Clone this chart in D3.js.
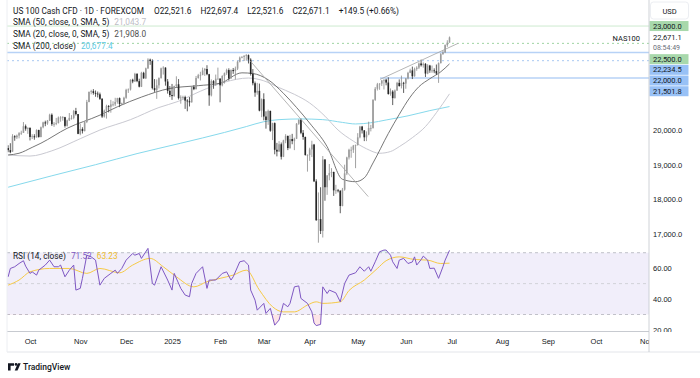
<!DOCTYPE html>
<html>
<head>
<meta charset="utf-8">
<script src="https://cdn.jsdelivr.net/npm/d3@7"></script>
<style>
  body { margin: 0; background: #fff; }
  svg { display: block; font-family: Roboto, "Noto Sans", sans-serif; }
</style>
</head>
<body>
<svg id="chart" width="700" height="378"></svg>
<script>
// ---------- data ----------
const startDate = "2024-09-17";
const closedDays = ["2024-12-25", "2025-01-01"];

// [open, high, low, close], one row per trading day
const candles = [
  // Sep 2024
  [19480,19560,19360,19420],[19420,19620,19330,19360],[19380,19880,19370,19820],[19820,19850,19690,19790],[19790,19870,19740,19840],
  [19840,19940,19760,19910],[19910,19980,19860,19920],[19920,20230,19920,20110],[20110,20160,19980,20040],[20040,20080,19890,20060],
  // Oct
  [20060,20080,19700,19800],[19800,19880,19740,19820],[19820,19880,19720,19790],[19790,20020,19780,20000],[20000,20010,19780,19800],
  [19800,20100,19790,20080],[20080,20240,20050,20220],[20220,20270,20110,20190],[20190,20290,20150,20270],[20270,20470,20260,20440],
  [20440,20480,20120,20170],[20170,20230,20090,20180],[20180,20350,20140,20200],[20200,20390,20190,20360],[20360,20400,20240,20360],
  [20360,20400,20270,20370],[20370,20380,20070,20120],[20120,20300,20100,20280],[20280,20490,20260,20350],[20350,20430,20300,20350],
  [20350,20580,20310,20550],[20550,20640,20420,20460],[20460,20460,19880,19890],
  // Nov
  [19890,20180,19850,20030],[20030,20080,19900,19970],[19970,20250,19960,20230],[20230,20870,20200,20810],[20810,21110,20800,21100],
  [21100,21160,21030,21120],[21120,21180,21020,21070],[21070,21140,20960,21050],[21050,21110,20940,21030],[21030,21080,20870,20900],
  [20900,20920,20350,20390],[20390,20590,20360,20560],[20560,20730,20330,20690],[20690,20720,20510,20670],[20670,20870,20500,20740],
  [20740,20830,20680,20740],[20740,20930,20690,20810],[20810,20930,20760,20920],[20920,20940,20660,20750],[20750,20790,20720,20770],
  [20770,20960,20740,20930],
  // Dec
  [20930,21190,20900,21160],[21160,21200,21070,21170],[21170,21460,21140,21450],[21450,21480,21350,21400],[21400,21650,21390,21620],
  [21620,21640,21380,21410],[21410,21480,21230,21250],[21250,21680,21240,21650],[21650,21680,21480,21490],[21490,21800,21470,21780],
  [21780,22070,21760,22030],[22030,22060,21880,21990],[21990,22040,21170,21210],[21210,21470,21100,21150],[21150,21460,20900,21290],
  [21290,21520,21200,21500],[21500,21800,21480,21780],[21780,21840,21600,21800],[21800,21810,21280,21400],[21400,21470,21050,21130],
  [21130,21270,20950,21010],
  // Jan 2025
  [21010,21330,20870,20980],[20980,21280,20960,21270],[21270,21550,21240,21320],[21320,21470,20880,20920],[20920,21000,20760,20940],
  [20940,20990,20890,20950],[20950,20990,20610,20850],[20850,20890,20540,20830],[20830,20950,20680,20800],[20800,21270,20790,21240],
  [21240,21290,21150,21180],[21180,21560,21170,21500],[21500,21620,21480,21580],[21580,21680,21430,21590],[21590,21800,21580,21720],
  [21720,21790,21560,21760],[21760,21870,21580,21610],[21610,21620,20700,21000],[21000,21460,20970,21410],[21410,21440,21190,21340],
  [21340,21600,21280,21480],[21480,21800,21460,21480],
  // Feb
  [21480,21500,20800,21290],[21290,21580,21260,21560],[21560,21660,21340,21640],[21640,21770,21590,21730],[21730,21780,21430,21490],
  [21490,21750,21480,21730],[21730,21790,21620,21700],[21700,21830,21460,21770],[21770,22000,21730,21970],[21970,22120,21950,22090],
  [22090,22130,22070,22110],[22110,22160,21990,22140],[22140,22190,22000,22160],[22160,22180,21920,22030],[22030,22070,21570,21620],
  [21620,21760,21290,21350],[21350,21400,20960,21080],[21080,21360,21020,21130],[21130,21340,20540,20560],[20560,20910,20370,20890],
  // Mar
  [20890,21060,20280,20390],[20390,20540,20040,20290],[20290,20590,20150,20550],[20550,20560,19950,19980],[19980,20210,19710,20200],
  [20200,20220,19300,19430],[19430,19630,19240,19380],[19380,19680,19370,19590],[19590,19640,19150,19230],[19230,19720,19220,19700],
  [19700,19880,19620,19830],[19830,19840,19420,19480],[19480,19860,19460,19740],[19740,19890,19590,19680],[19680,19780,19420,19750],
  [19750,20200,19740,20180],[20180,20310,20150,20290],[20290,20330,19880,19920],[19920,20000,19720,19800],[19800,19810,19260,19280],
  [19280,19300,18800,19280],
  // Apr
  [19280,19490,19110,19440],[19440,19690,19220,19580],[19580,19600,18500,18520],[18520,18580,17380,17400],[17400,18200,16750,17430],
  [17430,18350,17000,17090],[17090,19250,16900,19150],[19150,19160,17960,18350],[18350,18700,18130,18690],[18690,19020,18550,18760],
  [18760,18900,18640,18790],[18790,18800,18100,18260],[18260,18420,18160,18260],[18260,18300,18200,18250],[18250,18260,17600,17810],
  [17810,18330,17800,18280],[18280,19000,18250,18750],[18750,19230,18700,19210],[19210,19460,19150,19430],[19430,19520,19200,19430],
  [19430,19570,19340,19550],[19550,19580,18900,19570],
  // May
  [19570,19910,19550,19790],[19790,20120,19760,20100],[20100,20120,19900,19990],[19990,20000,19680,19790],[19790,19960,19680,19870],
  [19870,20240,19850,20060],[20060,20150,19960,20060],[20060,20890,20040,20870],[20870,21240,20840,21190],[21190,21360,21140,21320],
  [21320,21350,21160,21340],[21340,21440,21270,21430],[21430,21460,21170,21450],[21450,21480,21290,21370],[21370,21520,21020,21040],
  [21040,21200,20990,21110],[21110,21150,20720,20920],[20920,21170,20910,21140],[21140,21390,21130,21360],[21360,21460,21250,21270],
  [21270,21570,21200,21360],[21360,21390,21070,21340],
  // Jun
  [21340,21500,21190,21490],[21490,21680,21460,21650],[21650,21770,21640,21720],[21720,21830,21470,21550],[21550,21800,21540,21760],
  [21760,21840,21710,21800],[21800,21950,21760,21920],[21920,22030,21830,21870],[21870,21950,21800,21910],[21910,21930,21530,21630],
  [21630,21900,21610,21860],[21860,21880,21650,21720],[21720,21860,21650,21720],[21720,21780,21640,21700],[21700,21890,21590,21630],
  [21630,21950,21360,21930],[21930,22220,21920,22190],[22190,22300,22170,22240],[22240,22470,22220,22450],[22450,22590,22400,22521.6],
  [22521.6,22697.4,22521.6,22671.1]
];

// moving averages, [bar index, value]
const sma20 = [[0,19280],[5,19330],[11,19500],[15,19620],[27,20050],[42,20430],[50,20670],[61,20950],[74,21200],[87,21280],
  [97,21350],[107,21650],[112,21630],[119,21450],[126,21060],[132,20650],[138,20200],[146,19520],[153,18580],[159,18510],
  [163,18620],[167,19050],[174,19900],[179,20450],[184,20950],[188,21250],[193,21480],[198,21680],[202,21908.0]];
const sma50 = [[0,19280],[10,19250],[20,19400],[33,19750],[42,20000],[56,20300],[69,20650],[78,20830],[88,21120],[99,21380],
  [110,21500],[117,21420],[123,21250],[131,21030],[138,20780],[145,20400],[151,20000],[158,19680],[164,19460],[170,19330],
  [175,19380],[179,19520],[185,19780],[191,20100],[196,20500],[202,21043.7]];
const sma200 = [[0,18350],[20,18680],[40,19000],[59,19320],[79,19620],[99,19930],[109,20100],[117,20240],[124,20300],[134,20320],
  [144,20300],[153,20220],[159,20175],[166,20210],[173,20290],[183,20410],[193,20560],[202,20677.4]];

// RSI(14) and its moving average, [bar index, value]
const rsi = [[0,54.4],[1,59.8],[3,60.9],[5,63],[7,64.8],[8,61.3],[10,56.6],[11,57.6],[13,55.5],[14,58.7],[17,62],[19,65.2],
  [21,60.9],[23,60.9],[24,62],[26,54.4],[28,58.7],[30,62],[31,45.8],[33,46.9],[34,53.4],[36,68.4],[38,67.3],[40,65.2],[42,49],
  [44,53.4],[47,56.6],[49,58.7],[50,56.6],[52,59.8],[54,65.2],[57,69.5],[58,68.4],[60,69.5],[61,66.3],[64,72.8],[66,50.1],
  [67,49],[70,60.9],[73,52.3],[75,45.8],[76,56.6],[79,46.9],[81,42.6],[83,41.5],[84,50.1],[86,56.6],[89,60.9],[91,46.9],
  [92,52.3],[95,52.3],[98,56.6],[100,57.6],[102,52.3],[103,54.4],[106,64.1],[108,64.8],[110,62],[111,45.8],[113,39.3],
  [114,32.8],[117,37.2],[118,30.7],[120,34],[122,23.1],[124,26.4],[126,37.2],[128,35],[129,37.2],[131,47.9],[133,48.5],
  [134,40.4],[137,37.2],[139,31.7],[140,24.5],[141,22.8],[143,23.6],[144,47.9],[146,43.6],[147,45.8],[150,44],[152,38.2],[154,50.1],
  [156,55.5],[159,57],[161,60.9],[163,58],[165,60.9],[166,58],[168,64.1],[170,70.6],[172,71.7],[173,71.7],[175,68.4],
  [176,64.1],[178,59.8],[179,65.2],[181,66.3],[183,63],[185,64],[186,67.3],[187,62],[189,65.5],[190,67.8],[192,65.2],
  [193,59.8],[195,60],[197,53.4],[199,60.9],[200,65.2],[202,71.52]];
const rsiMa = [[0,49],[5,52.3],[10,57.6],[19,59.8],[28,59.8],[36,56.6],[42,59.8],[51,57],[57,62],[65,66.3],[71,60.9],[77,54.4],
  [85,47.9],[91,51.2],[97,53.4],[103,55.5],[109,58.7],[115,45.8],[121,35],[126,31.7],[131,31.7],[137,36.1],[141,38.2],
  [144,37.2],[152,38.2],[156,45.5],[163,52.3],[169,59.8],[173,64.8],[179,67.3],[186,65.6],[192,65.2],[198,63],[202,63.23]];

// drawn levels and trend lines
const greenLevels = [23000, 22500];
const blueLevels = [22234.5, 22000, 21501.8];
const trendDown = [[110.7, 22000], [164.8, 18080]];
const trendUp = [[170.2, 21460], [205.9, 22500]];

const priceTicks = [17000, 18000, 19000, 20000];
const rsiTicks = [60, 40, 20];
const rsiBands = [70, 50, 30];
const monthNames = ["Jan","Feb","Mar","Apr","May","Jun","Jul","Aug","Sep","Oct","Nov","Dec"];
const symbolName = "NAS100";
const lastTime = "08:54:49";

// ---------- layout ----------
const svg = d3.select("#chart");
const left = 7, right = 649;
const priceBottom = 248, rsiBottom = 331.5, axisBottom = 352;
const ink = "#131722";
const legendSize = 8.3;
const fmt1 = d3.format(",.1f");

const x = d3.scaleLinear().domain([0, 202]).range([8.15, 449.5]);
const y = d3.scaleLinear().domain([16000, 23500]).range([268.7, 8.7]);
const yR = d3.scaleLinear().domain([30, 70]).range([314.5, 252.7]);

// trading calendar (weekdays minus closures), extended into the future for the axis
const dates = [];
for (let d = new Date(startDate + "T00:00:00Z"); dates.length < candles.length + 100; d.setUTCDate(d.getUTCDate() + 1)) {
  const iso = d.toISOString().slice(0, 10);
  if (d.getUTCDay() === 0 || d.getUTCDay() === 6 || closedDays.includes(iso)) continue;
  dates.push(new Date(d));
}

const defs = svg.append("defs");
const clip = (id, x0, y0, w, h) => defs.append("clipPath").attr("id", id).append("rect")
  .attr("x", x0).attr("y", y0).attr("width", w).attr("height", h);
clip("clipPrice", left, 0, right - left, priceBottom);
clip("clipRsi", left, priceBottom, right - left, rsiBottom - priceBottom);
clip("clipOver", left, 0, right - left, yR(70));
clip("clipUnder", left, yR(30), right - left, 40);
clip("clipTime", left, 0, right - left, 25);

// ---------- price pane ----------
const gp = svg.append("g").attr("clip-path", "url(#clipPrice)");

gp.selectAll(".lvl-g").data(greenLevels).join("line")
  .attr("x1", left).attr("x2", right)
  .attr("y1", d => y(d)).attr("y2", d => y(d))
  .attr("stroke", (d, i) => i === 0 ? "#cdeacf" : "#9fd4a3")
  .attr("stroke-width", 1)
  .attr("stroke-dasharray", (d, i) => i === 0 ? null : "2,3");

gp.selectAll(".lvl-b").data(blueLevels).join("line")
  .attr("x1", (d, i) => i === 2 ? x(trendUp[0][0]) : left).attr("x2", right)
  .attr("y1", d => y(d)).attr("y2", d => y(d))
  .attr("stroke", (d, i) => i === 1 ? "#a8c8f2" : "#b7d2f6")
  .attr("stroke-width", (d, i) => i === 1 ? 1 : 1.4)
  .attr("stroke-dasharray", (d, i) => i === 1 ? "2,3" : null);

const maLine = d3.line().x(d => x(d[0])).y(d => y(d[1])).curve(d3.curveMonotoneX);
gp.append("path").datum(sma200).attr("d", maLine).attr("fill", "none").attr("stroke", "#86d9ec").attr("stroke-width", 1);
gp.append("path").datum(sma50).attr("d", maLine).attr("fill", "none").attr("stroke", "#c9c9d1").attr("stroke-width", 1);
gp.append("path").datum(sma20).attr("d", maLine).attr("fill", "none").attr("stroke", "#5e5e5e").attr("stroke-width", 0.85);

const bw = 1.6;
const cg = gp.append("g");
cg.selectAll("line").data(candles).join("line")
  .attr("x1", (d, i) => x(i)).attr("x2", (d, i) => x(i))
  .attr("y1", d => y(d[1])).attr("y2", d => y(d[2]))
  .attr("stroke", d => d[3] >= d[0] ? "#8a8a8a" : "#333")
  .attr("stroke-width", 0.8);
cg.selectAll("rect").data(candles).join("rect")
  .attr("x", (d, i) => x(i) - bw / 2).attr("width", bw)
  .attr("y", d => y(Math.max(d[0], d[3])))
  .attr("height", d => Math.max(0.8, y(Math.min(d[0], d[3])) - y(Math.max(d[0], d[3]))))
  .attr("fill", d => d[3] >= d[0] ? "#9b9b9b" : "#262626");

const trend = d3.line().x(d => x(d[0])).y(d => y(d[1]));
[trendDown, trendUp].forEach(t => {
  gp.append("path").datum(t).attr("d", trend).attr("fill", "none").attr("stroke", "#a3a3a3").attr("stroke-width", 0.8);
});

gp.append("text").attr("x", right - 9).attr("y", y(candles[candles.length - 1][3]) + 1)
  .attr("text-anchor", "end").attr("dominant-baseline", "central")
  .attr("font-size", 7.5).attr("fill", ink).text(symbolName);

// ---------- RSI pane ----------
const gr = svg.append("g").attr("clip-path", "url(#clipRsi)");
gr.append("rect").attr("x", left).attr("width", right - left)
  .attr("y", yR(70)).attr("height", yR(30) - yR(70)).attr("fill", "#f1eefa");
gr.selectAll(".band").data(rsiBands).join("line")
  .attr("x1", left).attr("x2", right).attr("y1", d => yR(d)).attr("y2", d => yR(d))
  .attr("stroke", (d, i) => i === 1 ? "#c4c5cc" : "#a9abb3").attr("stroke-width", 0.7)
  .attr("stroke-dasharray", "3,3");

const rx = d => x(d[0]);
gr.append("path").datum(rsi).attr("clip-path", "url(#clipUnder)")
  .attr("d", d3.area().x(rx).y0(yR(30)).y1(d => yR(d[1])))
  .attr("fill", "rgba(242,54,69,0.13)");
gr.append("path").datum(rsi).attr("clip-path", "url(#clipOver)")
  .attr("d", d3.area().x(rx).y0(yR(70)).y1(d => yR(d[1])))
  .attr("fill", "rgba(8,153,129,0.12)");

gr.append("path").datum(rsiMa).attr("d", d3.line().x(rx).y(d => yR(d[1])).curve(d3.curveMonotoneX))
  .attr("fill", "none").attr("stroke", "#f5c945").attr("stroke-width", 1);
gr.append("path").datum(rsi).attr("d", d3.line().x(rx).y(d => yR(d[1])))
  .attr("fill", "none").attr("stroke", "#7e57c2").attr("stroke-width", 1);

// ---------- legends ----------
const last = candles[candles.length - 1];
const prevClose = candles[candles.length - 2][3];
const chg = last[3] - prevClose;
const sign = v => (v >= 0 ? "+" : "");

const head = svg.append("text").attr("x", 13).attr("y", 10.5).attr("dominant-baseline", "central")
  .attr("font-size", legendSize).attr("fill", ink);
head.append("tspan").text("US 100 Cash CFD · 1D · FOREXCOM");
["O", "H", "L", "C"].forEach((k, j) => head.append("tspan").attr("dx", j ? 9 : 10).text(k + fmt1(last[j])));
head.append("tspan").attr("dx", 9)
  .text(`${sign(chg)}${fmt1(chg)} (${sign(chg)}${(chg / prevClose * 100).toFixed(2)}%)`);

const legendRows = [
  { label: "SMA (50, close, 0, SMA, 5)", value: sma50[sma50.length - 1][1], color: "#bdbdc5" },
  { label: "SMA (20, close, 0, SMA, 5)", value: sma20[sma20.length - 1][1], color: "#4f4f4f" },
  { label: "SMA (200, close)", value: sma200[sma200.length - 1][1], color: "#5cc9e3" }
];
legendRows.forEach((r, i) => {
  const t = svg.append("text").attr("x", 13).attr("y", 22.3 + i * 11.6).attr("dominant-baseline", "central")
    .attr("font-size", legendSize).attr("fill", ink);
  t.append("tspan").text(r.label);
  t.append("tspan").attr("dx", 5).attr("fill", r.color).text(fmt1(r.value));
});

const rl = svg.append("text").attr("x", 13).attr("y", 255.5).attr("dominant-baseline", "central")
  .attr("font-size", legendSize).attr("fill", ink);
rl.append("tspan").text("RSI (14, close)");
rl.append("tspan").attr("dx", 5).attr("fill", "#7e57c2").text(rsi[rsi.length - 1][1].toFixed(2));
rl.append("tspan").attr("dx", 5).attr("fill", "#f0bf2c").text(rsiMa[rsiMa.length - 1][1].toFixed(2));

// ---------- right scale ----------
const pAxis = svg.append("g").attr("transform", `translate(${right},0)`)
  .call(d3.axisRight(y).tickValues(priceTicks).tickFormat(fmt1).tickSize(0).tickPadding(4));
const rAxis = svg.append("g").attr("transform", `translate(${right},0)`)
  .call(d3.axisRight(yR).tickValues(rsiTicks).tickFormat(d3.format(".2f")).tickSize(0).tickPadding(4));
[pAxis, rAxis].forEach(a => {
  a.select(".domain").remove();
  a.selectAll("text").attr("font-size", 7.5).attr("fill", ink).attr("font-family", null);
});

// badges, stacked top-down so they don't overlap
const badges = [
  { price: greenLevels[0], bg: "#a8d8ab" },
  { price: last[3], bg: "#fff", sub: lastTime },
  { price: greenLevels[1], bg: "#a8d8ab" },
  { price: blueLevels[0], bg: "#98c1f6" },
  { price: blueLevels[1], bg: "#98c1f6" },
  { price: blueLevels[2], bg: "#98c1f6" }
];
let prevBottom = -Infinity;
badges.forEach(b => {
  const h = b.sub ? 21 : 10;
  const top = Math.max(y(b.price) - 5, prevBottom + 0.7);
  prevBottom = top + h;
  const g = svg.append("g");
  g.append("rect").attr("x", right + 0.5).attr("y", top).attr("width", 39).attr("height", h).attr("fill", b.bg);
  g.append("text").attr("x", right + 4).attr("y", top + 5).attr("dominant-baseline", "central")
    .attr("font-size", 7.5).attr("fill", ink).text(fmt1(b.price));
  if (b.sub) g.append("text").attr("x", right + 4).attr("y", top + 15.5).attr("dominant-baseline", "central")
    .attr("font-size", 7).attr("fill", "#6a6d78").text(b.sub);
});

svg.append("rect").attr("x", right + 1.5).attr("y", 2).attr("width", 38).attr("height", 17).attr("rx", 3)
  .attr("fill", "#fff").attr("stroke", "#eceef2");
svg.append("text").attr("x", right + 20.5).attr("y", 11).attr("text-anchor", "middle").attr("dominant-baseline", "central")
  .attr("font-size", 7.5).attr("fill", ink).text("USD");

// ---------- time axis ----------
svg.append("rect").attr("x", 0).attr("y", rsiBottom + 0.5).attr("width", 700).attr("height", axisBottom - rsiBottom).attr("fill", "#fff");
const monthTicks = [];
dates.forEach((d, i) => {
  if (i > 0 && d.getUTCMonth() !== dates[i - 1].getUTCMonth()) monthTicks.push(i);
});
const tAxis = svg.append("g").attr("transform", `translate(0,${rsiBottom})`).attr("clip-path", "url(#clipTime)");
tAxis.call(d3.axisBottom(x).tickValues(monthTicks).tickSize(0).tickPadding(7)
  .tickFormat(i => dates[i].getUTCMonth() === 0 ? String(dates[i].getUTCFullYear()) : monthNames[dates[i].getUTCMonth()]));
tAxis.select(".domain").remove();
tAxis.selectAll("text").attr("font-size", 7.5).attr("fill", ink).attr("font-family", null);

// frame lines
svg.append("line").attr("x1", left).attr("x2", right).attr("y1", rsiBottom).attr("y2", rsiBottom).attr("stroke", "#b9bcc4").attr("stroke-width", 0.8);
svg.append("line").attr("x1", left).attr("x2", right + 51).attr("y1", axisBottom).attr("y2", axisBottom).attr("stroke", "#e3e5ea");
svg.append("line").attr("x1", right).attr("x2", right).attr("y1", 0).attr("y2", axisBottom).attr("stroke", "#c3c6cd").attr("stroke-width", 0.8);
svg.append("line").attr("x1", left).attr("x2", left).attr("y1", 0).attr("y2", axisBottom).attr("stroke", "#eceef2");

// ---------- TradingView mark ----------
const logo = svg.append("g").attr("fill", ink);
logo.append("path").attr("d", "M8,363.2h6v2.6h-3.4v4.6h-2.6z");
logo.append("circle").attr("cx", 16).attr("cy", 364.4).attr("r", 1.3);
logo.append("path").attr("d", "M17.9,363.2h2.8l-3.2,7.2h-2.8z");
logo.append("text").attr("x", 23).attr("y", 367).attr("dominant-baseline", "central")
  .attr("font-size", 8.5).attr("font-weight", 500).text("TradingView");
</script>
</body>
</html>
